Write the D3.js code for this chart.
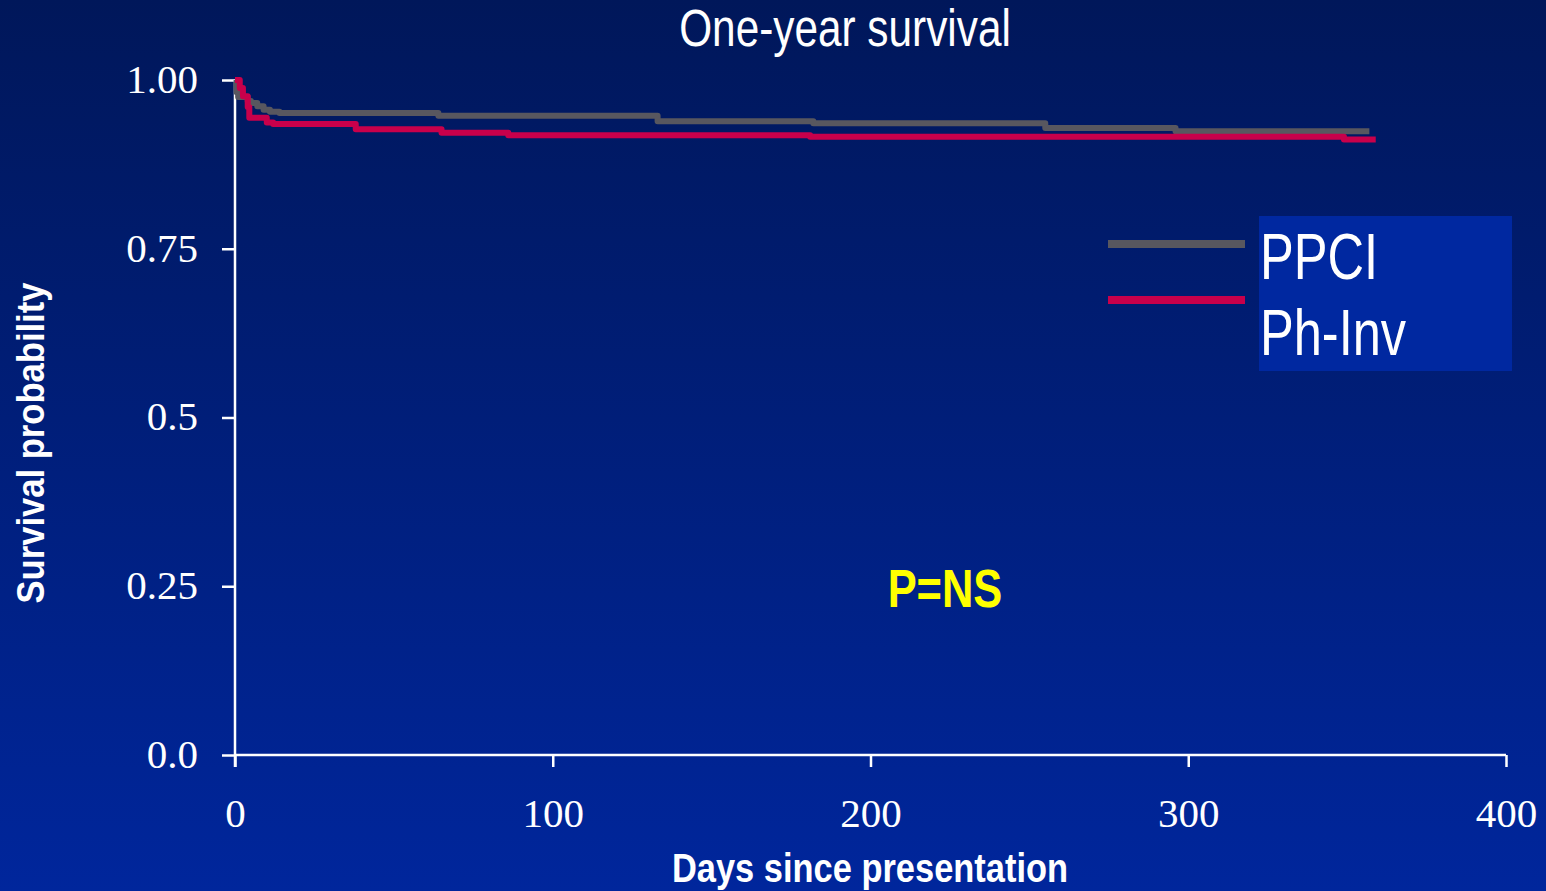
<!DOCTYPE html>
<html>
<head>
<meta charset="utf-8">
<script src="https://cdn.jsdelivr.net/npm/d3@7"></script>
<style>
  html, body { margin: 0; padding: 0; background: #001a60; }
  svg { display: block; }
</style>
</head>
<body>
<svg id="chart" width="1546" height="891"></svg>
<script>
// Kaplan-Meier steps: [day, survival]
const ppciSteps = [
  [0, 1.0], [0.5, 0.982], [1, 0.975], [4, 0.969], [5, 0.966], [7, 0.961],
  [9, 0.956], [11, 0.953], [14, 0.951], [64, 0.947], [133, 0.939],
  [182, 0.936], [255, 0.929], [296, 0.924], [357, 0.924]
];
const phInvSteps = [
  [0, 1.0], [1.5, 0.988], [2.5, 0.976], [4, 0.960], [4.5, 0.944],
  [10, 0.937], [12, 0.935], [38, 0.927], [65, 0.922], [86, 0.918],
  [181, 0.916], [349, 0.912], [359, 0.912]
];
const seriesNames = ["PPCI", "Ph-Inv"];
const seriesColors = ["#58575f", "#c8004b"];
const yTicks = [0, 0.25, 0.5, 0.75, 1.0];
const yTickLabels = ["0.0", "0.25", "0.5", "0.75", "1.00"];
const xTicks = [0, 100, 200, 300, 400];

const sans = "'Liberation Sans', Arial, sans-serif";
const serif = "'Liberation Serif', 'Times New Roman', serif";

const svg = d3.select("#chart");
const W = 1546, H = 891;

// background gradient
const defs = svg.append("defs");
const grad = defs.append("linearGradient")
  .attr("id", "bg").attr("x1", 0).attr("y1", 0).attr("x2", 0).attr("y2", 1);
grad.append("stop").attr("offset", "0%").attr("stop-color", "#00175a");
grad.append("stop").attr("offset", "100%").attr("stop-color", "#00269c");
svg.append("rect").attr("width", W).attr("height", H).attr("fill", "url(#bg)");

const x = d3.scaleLinear().domain([0, 400]).range([235, 1506]);
const y = d3.scaleLinear().domain([0, 1]).range([755, 80]);

// axes
const xAxis = svg.append("g")
  .attr("transform", `translate(0,${y(0)})`)
  .call(d3.axisBottom(x).tickValues(xTicks).tickSize(12).tickPadding(31).tickFormat(d3.format("d")));
const yAxis = svg.append("g")
  .attr("transform", `translate(${x(0)},0)`)
  .call(d3.axisLeft(y).tickValues(yTicks).tickSize(13).tickPadding(24)
    .tickFormat((d, i) => yTickLabels[i]));

[xAxis, yAxis].forEach(g => {
  g.select(".domain").attr("stroke", "#fff").attr("stroke-width", 2.5);
  g.selectAll(".tick line").attr("stroke", "#fff").attr("stroke-width", 2.5);
  g.selectAll(".tick text")
    .attr("fill", "#fff")
    .style("font-family", serif)
    .style("font-size", "41px");
});
yAxis.selectAll(".tick text").attr("dy", "0.3em");
xAxis.select(".domain").attr("d", `M${x(0)},0H${x(400)}`);
yAxis.select(".domain").attr("d", `M0,${y(1)}V${y(0) + 12}`);

// survival curves
const line = d3.line()
  .x(d => x(d[0]))
  .y(d => y(d[1]))
  .curve(d3.curveStepAfter);

[ppciSteps, phInvSteps].forEach((s, i) => {
  svg.append("path")
    .datum(s)
    .attr("d", line)
    .attr("fill", "none")
    .attr("stroke", seriesColors[i])
    .attr("stroke-width", 6)
    .attr("stroke-linejoin", "round");
});

// narrow text: squeeze a regular sans horizontally
function label(px, py, str, opts) {
  const t = svg.append("text")
    .attr("transform", `translate(${px},${py})${opts.rotate ? " rotate(-90)" : ""} scale(${opts.sx},1)`)
    .attr("text-anchor", opts.anchor || "start")
    .attr("fill", opts.fill || "#fff")
    .style("font-family", sans)
    .style("font-size", opts.size + "px")
    .text(str);
  if (opts.bold) t.style("font-weight", "bold");
  return t;
}

label(845, 46, "One-year survival", { size: 51, sx: 0.83, anchor: "middle" });
label(870, 882, "Days since presentation", { size: 41, sx: 0.84, anchor: "middle", bold: true });
label(44, 443, "Survival probability", { size: 38, sx: 0.91, anchor: "middle", bold: true, rotate: true });

// legend
svg.append("rect")
  .attr("x", 1259).attr("y", 216)
  .attr("width", 253).attr("height", 155)
  .attr("fill", "#0028a0");

const legendY = [244, 300];
const labelY = [279, 355];
seriesNames.forEach((name, i) => {
  svg.append("line")
    .attr("x1", 1108).attr("x2", 1245)
    .attr("y1", legendY[i]).attr("y2", legendY[i])
    .attr("stroke", seriesColors[i])
    .attr("stroke-width", 8);
  label(1260, labelY[i], name, { size: 64, sx: 0.79 });
});

// p value
label(945, 607, "P=NS", { size: 53, sx: 0.82, anchor: "middle", bold: true, fill: "#ffff00" });
</script>
</body>
</html>
